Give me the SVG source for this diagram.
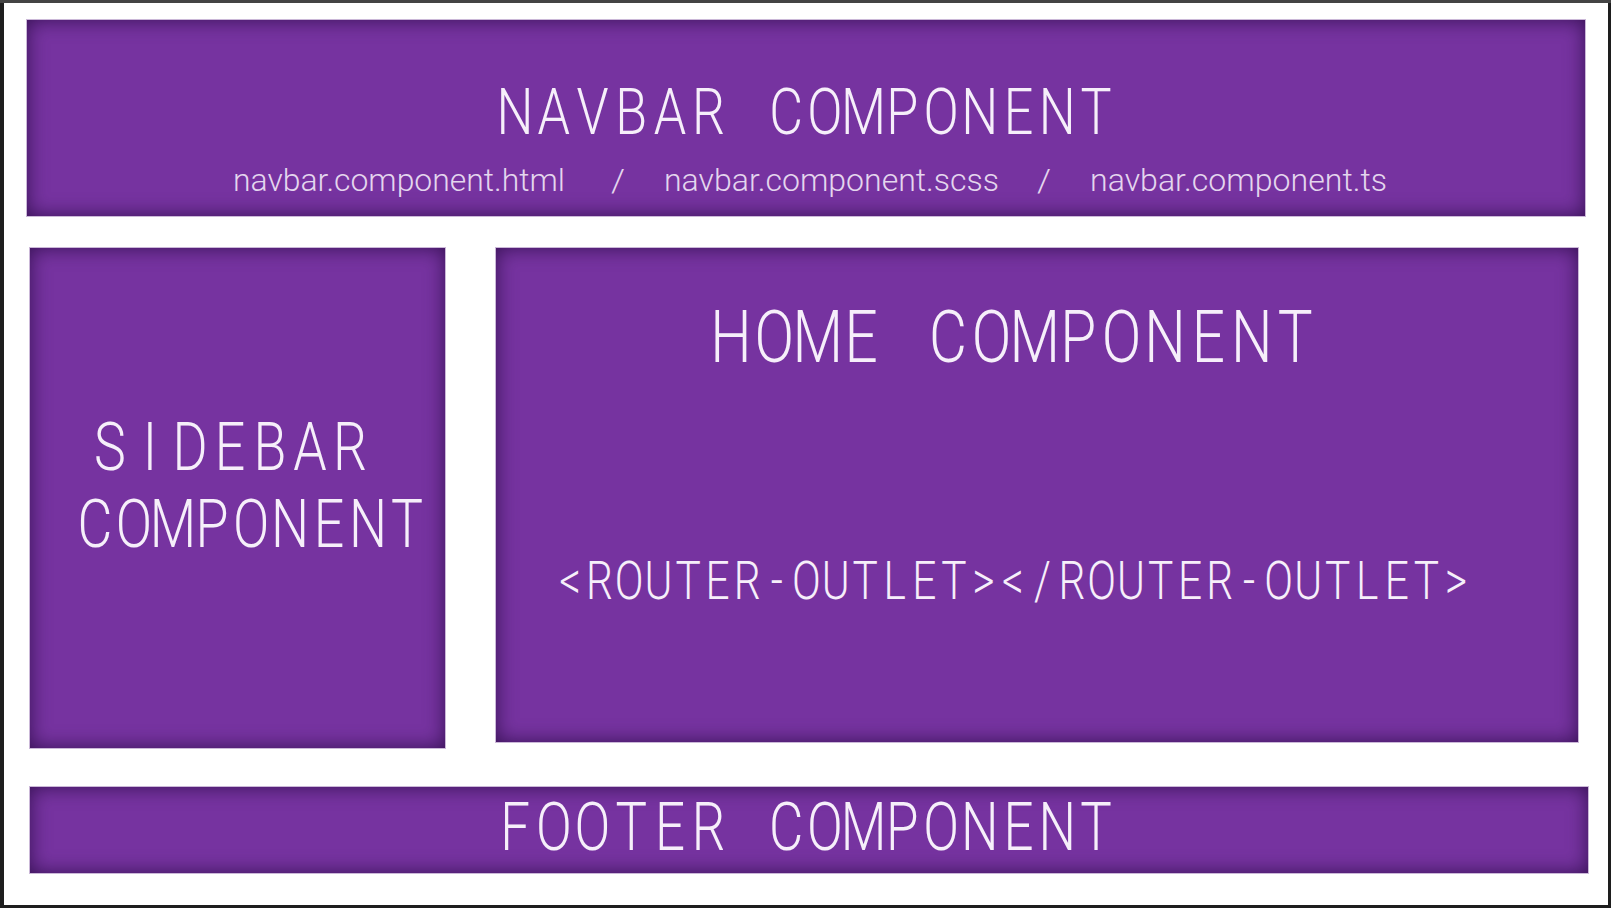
<svg xmlns="http://www.w3.org/2000/svg" width="1611" height="908" viewBox="0 0 1611 908">
  <defs>
    <filter id="inset" x="-50%" y="-50%" width="200%" height="200%" color-interpolation-filters="sRGB">
      <feComponentTransfer in="SourceAlpha" result="inv">
        <feFuncA type="table" tableValues="1 0"/>
      </feComponentTransfer>
      <feGaussianBlur in="inv" stdDeviation="10" result="blur"/>
      <feFlood flood-color="#2a0a45" flood-opacity="0.85" result="col"/>
      <feComposite in="col" in2="blur" operator="in" result="sh"/>
      <feComposite in="sh" in2="SourceAlpha" operator="in" result="inner"/>
      <feMerge>
        <feMergeNode in="SourceGraphic"/>
        <feMergeNode in="inner"/>
      </feMerge>
    </filter>
    <style>
      .box { fill: #7633a0; filter: url(#inset); }
      .edge { fill: none; stroke: #cbb8d8; stroke-width: 1; }
      .title { font-family: Roboto, "Liberation Sans", sans-serif; font-weight: 300; fill: #f6effa; text-anchor: middle; }
      .sub { font-family: Roboto, "Liberation Sans", sans-serif; font-weight: 300; fill: #e4d6ee; font-size: 31px; }
    </style>
  </defs>

  <rect x="0" y="0" width="1611" height="908" fill="#1e1e1e"/>
  <rect x="0" y="0" width="1611" height="3" fill="#444444"/>
  <rect x="4" y="3" width="1604" height="902" fill="#ffffff"/>

  <g id="navbar">
    <rect class="box" x="27" y="20" width="1558" height="196"/>
    <rect class="edge" x="26.5" y="19.5" width="1559" height="197"/>
    <text class="title" transform="scale(0.8,1)" y="134" font-size="65" x="643.8 692.2 740.6 789.0 837.4 885.8 934.2 982.6 1031.1 1079.5 1127.9 1176.3 1224.7 1273.1 1321.5 1369.9">NAVBAR COMPONENT</text>
    <text class="sub" x="233" y="191" textLength="332" lengthAdjust="spacingAndGlyphs">navbar.component.html</text>
    <text class="sub" x="611" y="191" textLength="14" lengthAdjust="spacingAndGlyphs">/</text>
    <text class="sub" x="664" y="191" textLength="335" lengthAdjust="spacingAndGlyphs">navbar.component.scss</text>
    <text class="sub" x="1037" y="191" textLength="14" lengthAdjust="spacingAndGlyphs">/</text>
    <text class="sub" x="1090" y="191" textLength="297" lengthAdjust="spacingAndGlyphs">navbar.component.ts</text>
  </g>

  <g id="sidebar">
    <rect class="box" x="30" y="248" width="415" height="500"/>
    <rect class="edge" x="29.5" y="247.5" width="416" height="501"/>
    <text class="title" transform="scale(0.8,1)" y="470" font-size="67" x="137.5 187.5 237.5 287.5 337.5 387.5 437.5">SIDEBAR</text>
    <text class="title" transform="scale(0.8,1)" y="547" font-size="67" x="118.8 167.5 216.3 265.0 313.8 362.5 411.3 460.0 508.8">COMPONENT</text>
  </g>

  <g id="home">
    <rect class="box" x="496" y="248" width="1082" height="494"/>
    <rect class="edge" x="495.5" y="247.5" width="1083" height="495"/>
    <text class="title" transform="scale(0.8,1)" y="362" font-size="73" x="913.8 968.0 1022.3 1076.5 1130.8 1185.0 1239.3 1293.5 1347.8 1402.0 1456.3 1510.5 1564.8 1619.0">HOME COMPONENT</text>
    <text class="title" transform="scale(0.8,1)" y="599" font-size="53" x="712.5 749.4 786.3 823.2 860.2 897.1 934.0 970.9 1007.8 1044.7 1081.6 1118.5 1155.5 1192.4 1229.3 1266.2 1303.1 1340.0 1376.9 1413.8 1450.8 1487.7 1524.6 1561.5 1598.4 1635.3 1672.2 1709.1 1746.1 1783.0 1819.9">&lt;ROUTER-OUTLET&gt;&lt;/ROUTER-OUTLET&gt;</text>
  </g>

  <g id="footer">
    <rect class="box" x="30" y="787" width="1558" height="86"/>
    <rect class="edge" x="29.5" y="786.5" width="1559" height="87"/>
    <text class="title" transform="scale(0.8,1)" y="850" font-size="66" x="643.8 692.2 740.6 789.0 837.4 885.8 934.2 982.6 1031.1 1079.5 1127.9 1176.3 1224.7 1273.1 1321.5 1369.9">FOOTER COMPONENT</text>
  </g>

  <g id="connectors"/>
</svg>
